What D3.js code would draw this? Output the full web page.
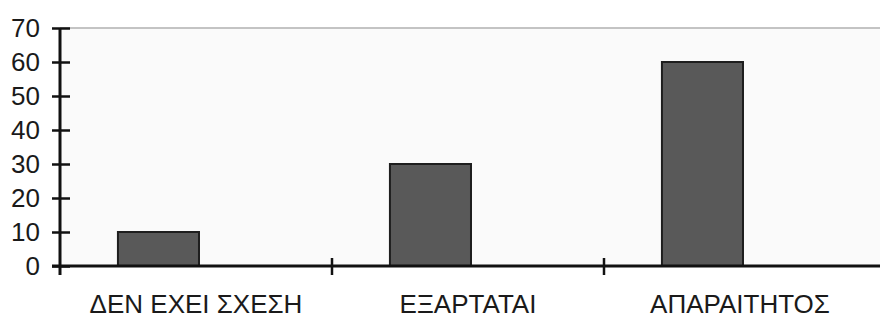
<!DOCTYPE html>
<html lang="el">
<head>
<meta charset="utf-8">
<title>Bar chart</title>
<script src="https://cdn.jsdelivr.net/npm/d3@7"></script>
<style>
  body { margin: 0; background: #fff; }
  svg text { font-family: "Liberation Sans", Arial, sans-serif; fill: #1a1a1a; }
</style>
</head>
<body>
<div class="chart"></div>
<script>
// data
var categories = ["ΔΕΝ ΕΧΕΙ ΣΧΕΣΗ", "ΕΞΑΡΤΑΤΑΙ", "ΑΠΑΡΑΙΤΗΤΟΣ"];
var values = [10, 30, 60];
var yTicks = [0, 10, 20, 30, 40, 50, 60, 70];

var w = 880, h = 320;
var plotL = 60, plotR = 876, plotT = 28, plotB = 266;

var svg = d3.select("div.chart").append("svg")
  .attr("width", w)
  .attr("height", h);

var x = d3.scaleBand().domain(categories).range([plotL, plotR]).padding(0);
var y = d3.scaleLinear().domain([0, 70]).range([plotB, plotT]);

// plot background
svg.append("rect")
  .attr("x", plotL).attr("y", plotT)
  .attr("width", w - plotL).attr("height", plotB - plotT)
  .attr("fill", "#fafafa");
svg.append("line")
  .attr("x1", plotL).attr("x2", w)
  .attr("y1", plotT).attr("y2", plotT)
  .attr("stroke", "#b0b0b0").attr("stroke-width", 1.5);

// bars (sit left of the band centre, like the original)
svg.selectAll("rect.bar")
  .data(values)
  .enter().append("rect")
  .attr("class", "bar")
  .attr("x", (d, i) => x(categories[i]) + x.bandwidth() * 0.213)
  .attr("width", x.bandwidth() * 0.298)
  .attr("y", d => y(d))
  .attr("height", d => y(0) - y(d))
  .attr("fill", "#595959")
  .attr("stroke", "#1e1e1e")
  .attr("stroke-width", 2);

// y axis
var yAxis = d3.axisLeft(y).tickValues(yTicks).tickSizeOuter(0).tickPadding(14);
var gy = svg.append("g")
  .attr("transform", "translate(" + plotL + ",0)")
  .call(yAxis);
gy.select(".domain").remove();
gy.selectAll(".tick line").attr("x1", -8).attr("x2", 10)
  .attr("stroke", "#111").attr("stroke-width", 2.5);
gy.selectAll(".tick text")
  .style("font-size", "26px")
  .attr("fill", "#1a1a1a");
gy.append("line")
  .attr("x1", 0).attr("x2", 0)
  .attr("y1", plotT).attr("y2", plotB + 9)
  .attr("stroke", "#111").attr("stroke-width", 3);

// x axis
svg.append("line")
  .attr("x1", plotL - 8).attr("x2", w)
  .attr("y1", plotB).attr("y2", plotB)
  .attr("stroke", "#111").attr("stroke-width", 3);

svg.selectAll("line.xtick")
  .data(categories.slice(1))
  .enter().append("line")
  .attr("class", "xtick")
  .attr("x1", d => x(d)).attr("x2", d => x(d))
  .attr("y1", plotB - 8).attr("y2", plotB + 9)
  .attr("stroke", "#111").attr("stroke-width", 2.5);

svg.selectAll("text.xlabel")
  .data(categories)
  .enter().append("text")
  .attr("class", "xlabel")
  .attr("x", d => x(d) + x.bandwidth() / 2)
  .attr("y", 313)
  .attr("text-anchor", "middle")
  .style("font-size", "26px")
  .text(d => d);
</script>
</body>
</html>
